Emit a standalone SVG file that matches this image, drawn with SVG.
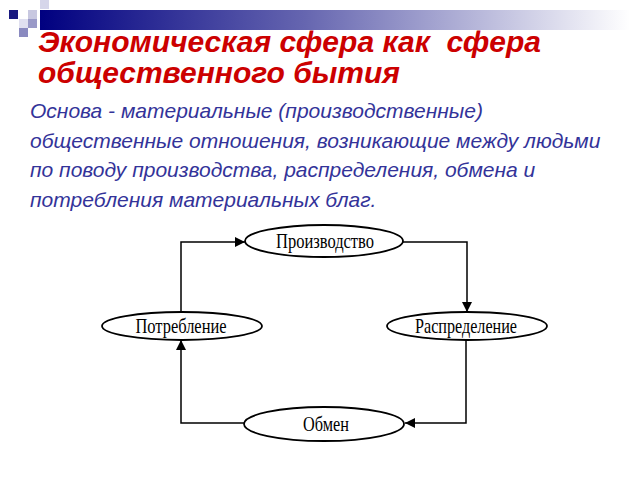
<svg xmlns="http://www.w3.org/2000/svg" width="640" height="480" viewBox="0 0 640 480">
<style>
.title{font-family:"Liberation Sans",Arial,sans-serif;font-style:italic;font-weight:bold;font-size:30px;fill:#cc0000;white-space:pre}
.body{font-family:"Liberation Sans",Arial,sans-serif;font-style:italic;font-size:21px;fill:#333399}
.node ellipse{fill:#fff;stroke:#000;stroke-width:1.8}
.node text{font-family:"Liberation Serif","Times New Roman",serif;font-size:21px;fill:#000;text-anchor:middle}
.conn{fill:none;stroke:#000;stroke-width:1.5}
</style>
<defs>
<linearGradient id="bar" x1="0" y1="0" x2="1" y2="0">
<stop offset="0" stop-color="#000080"/>
<stop offset="0.45" stop-color="#6666b0"/>
<stop offset="1" stop-color="#ffffff"/>
</linearGradient>
<marker id="arr" viewBox="0 0 10 10" refX="10" refY="5" markerWidth="10" markerHeight="10" markerUnits="userSpaceOnUse" orient="auto">
<path d="M0,0 L10,5 L0,10 z" fill="#000"/>
</marker>
</defs>
<rect width="640" height="480" fill="#fff"/>
<g id="decor">
<rect x="40" y="10" width="590" height="20" fill="url(#bar)"/>
<rect x="40" y="0" width="9" height="9" fill="#d6d6ea"/>
<rect x="9" y="10" width="9" height="9" fill="#1a1a80"/>
<rect x="28" y="10" width="9" height="9" fill="#c8c8e0"/>
<rect x="19" y="19" width="9" height="9" fill="#e0e0f0"/>
<rect x="28" y="19" width="9" height="9" fill="#9a9ac8"/>
<rect x="19" y="28" width="9" height="9" fill="#8a8ac0"/>
</g>
<text class="title" x="38" y="52" xml:space="preserve">Экономическая сфера как  сфера</text>
<text class="title" x="38" y="83">общественного бытия</text>
<g id="description">
<text class="body" x="30" y="118">Основа - материальные (производственные)</text>
<text class="body" x="30" y="148">общественные отношения, возникающие между людьми</text>
<text class="body" x="30" y="177">по поводу производства, распределения, обмена и</text>
<text class="body" x="30" y="207">потребления материальных благ.</text>
</g>
<g id="connectors">
<path class="conn" d="M181,312 V242 H245" marker-end="url(#arr)"/>
<path class="conn" d="M403,242 H467 V312" marker-end="url(#arr)"/>
<path class="conn" d="M466,340 V423 H405" marker-end="url(#arr)"/>
<path class="conn" d="M244,423 H181 V340" marker-end="url(#arr)"/>
</g>
<g id="n-proizvodstvo" class="node">
<ellipse cx="324" cy="241" rx="79" ry="16"/>
<text x="325" y="248" textLength="98" lengthAdjust="spacingAndGlyphs">Производство</text>
</g>
<g id="n-potreblenie" class="node">
<ellipse cx="182" cy="326" rx="80" ry="14"/>
<text x="181" y="333" textLength="91" lengthAdjust="spacingAndGlyphs">Потребление</text>
</g>
<g id="n-raspredelenie" class="node">
<ellipse cx="467" cy="326" rx="80" ry="14"/>
<text x="466" y="333" textLength="102" lengthAdjust="spacingAndGlyphs">Распределение</text>
</g>
<g id="n-obmen" class="node">
<ellipse cx="324" cy="424" rx="80" ry="17"/>
<text x="326" y="431" textLength="46" lengthAdjust="spacingAndGlyphs">Обмен</text>
</g>
</svg>
